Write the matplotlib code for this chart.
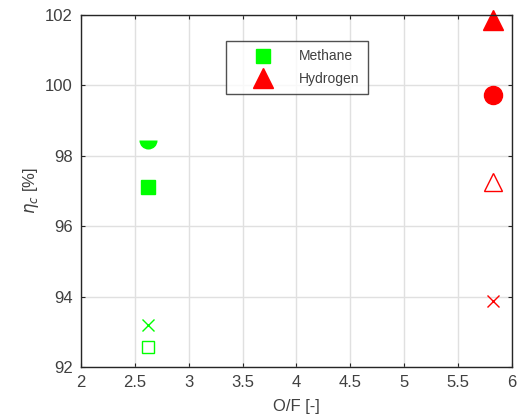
import matplotlib
matplotlib.use("Agg")
import matplotlib.pyplot as plt
from matplotlib.lines import Line2D

plt.rcParams['font.family'] = ['Liberation Sans', 'DejaVu Sans']

# Data
methane_of = 2.62
hydrogen_of = 5.83
methane_vals = {'half': 98.45, 'square': 97.11, 'x': 93.19, 'open_square': 92.57}
hydrogen_vals = {'triangle': 101.86, 'circle': 99.73, 'open_triangle': 97.26, 'x': 93.88}
xticks = [2, 2.5, 3, 3.5, 4, 4.5, 5, 5.5, 6]
yticks = [92, 94, 96, 98, 100, 102]

green = (0, 1, 0)
red = (1, 0, 0)
dark = (0.15, 0.15, 0.15)
labgray = (0.25, 0.25, 0.25)

fig = plt.figure(figsize=(5.26, 4.19), dpi=100)
ax = fig.add_axes([0.154, 0.124, 0.819, 0.840])

# Methane
ax.plot(methane_of, methane_vals['half'], marker='o', fillstyle='bottom', markerfacecolor=green,
        markerfacecoloralt='none', markeredgewidth=0, markersize=13, linestyle='none', clip_on=False)
ax.plot(methane_of, methane_vals['square'], marker='s', color=green, markersize=10, linestyle='none')
ax.plot(methane_of, methane_vals['x'], marker='x', color=green, markersize=8, markeredgewidth=1, linestyle='none')
ax.plot(methane_of, methane_vals['open_square'], marker='s', markerfacecolor='none', markeredgecolor=green,
        markersize=9, markeredgewidth=1, linestyle='none')

# Hydrogen
ax.plot(hydrogen_of, hydrogen_vals['triangle'], marker='^', color=red, markersize=15, linestyle='none', clip_on=False)
ax.plot(hydrogen_of, hydrogen_vals['circle'], marker='o', color=red, markersize=13, linestyle='none')
ax.plot(hydrogen_of, hydrogen_vals['open_triangle'], marker='^', markerfacecolor='none', markeredgecolor=red,
        markersize=13, markeredgewidth=1, linestyle='none')
ax.plot(hydrogen_of, hydrogen_vals['x'], marker='x', color=red, markersize=8, markeredgewidth=1, linestyle='none')

ax.set_xlim(2, 6)
ax.set_ylim(92, 102)
ax.set_xticks(xticks)
ax.set_xticklabels(['2', '2.5', '3', '3.5', '4', '4.5', '5', '5.5', '6'])
ax.set_yticks(yticks)
ax.grid(True, color=(0.88, 0.88, 0.88), linewidth=1)
ax.set_axisbelow(True)
ax.tick_params(direction='in', length=3, colors=dark, labelsize=12, labelcolor=labgray,
               top=True, right=True)
for s in ax.spines.values():
    s.set_color(dark)
    s.set_linewidth(1)
ax.tick_params(axis='x', pad=6)
ax.tick_params(axis='y', pad=6)
ax.set_xlabel('O/F [-]', fontsize=12, color=labgray, labelpad=6)
ax.set_ylabel(r'$\eta_c$ [%]', fontsize=12, color=labgray, labelpad=3)

handles = [Line2D([], [], marker='s', color=green, markersize=10, linestyle='none'),
           Line2D([], [], marker='^', color=red, markersize=15, linestyle='none')]
leg = ax.legend(handles, ['Methane', 'Hydrogen'], loc='upper left', bbox_to_anchor=(0.336, 0.926),
                frameon=True, fancybox=False, edgecolor=dark, fontsize=10,
                handlelength=4.2, handletextpad=0.5, borderpad=0.6, labelspacing=0.6, borderaxespad=0)
leg.get_frame().set_linewidth(1)
for t in leg.get_texts():
    t.set_color(labgray)

fig.savefig('out.png', dpi=100)
